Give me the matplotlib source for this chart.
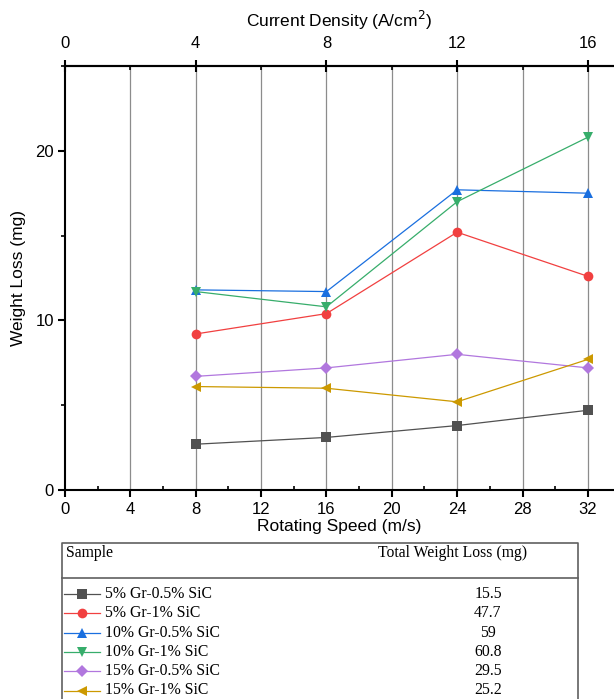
import numpy as np
import matplotlib.pyplot as plt
from matplotlib.ticker import MultipleLocator

plt.rcParams['font.family'] = ['Liberation Sans', 'DejaVu Sans']

# ---------------------------------------------------------
# Data
# ---------------------------------------------------------

speed = [8, 16, 24, 32]

labels = [
    "5% Gr-0.5% SiC",
    "5% Gr-1% SiC",
    "10% Gr-0.5% SiC",
    "10% Gr-1% SiC",
    "15% Gr-0.5% SiC",
    "15% Gr-1% SiC",
]

loss_5gr_05sic = [2.7, 3.1, 3.8, 4.7]
loss_5gr_1sic = [9.2, 10.4, 15.2, 12.6]
loss_10gr_05sic = [11.8, 11.7, 17.7, 17.5]
loss_10gr_1sic = [11.7, 10.8, 17.0, 20.8]
loss_15gr_05sic = [6.7, 7.2, 8.0, 7.2]
loss_15gr_1sic = [6.1, 6.0, 5.2, 7.7]

total_loss = ["15.5", "47.7", "59", "60.8", "29.5", "25.2"]

series = [loss_5gr_05sic, loss_5gr_1sic, loss_10gr_05sic,
          loss_10gr_1sic, loss_15gr_05sic, loss_15gr_1sic]
colors = ["#515151", "#F14040", "#1A6FDF", "#37AD6B", "#B177DE", "#CC9900"]
markers = ["s", "o", "^", "v", "D", "<"]
msizes = [6.5, 7, 7.5, 7.5, 6.5, 7.5]

# ---------------------------------------------------------
# Figure
# ---------------------------------------------------------

W, H = 614, 699
fig = plt.figure(figsize=(W / 100, H / 100), dpi=100)

ax = fig.add_axes([65 / W, 1 - 490 / H, (W - 65) / W, (490 - 66) / H])

for x in range(4, 33, 4):
    ax.axvline(x, color="#8c8c8c", lw=0.9, zorder=0)

for y, c, m, ms in zip(series, colors, markers, msizes):
    ax.plot(speed, y, color=c, lw=0.9, marker=m, markersize=ms,
            markeredgewidth=0, zorder=3)

ax.set_xlim(0, 33.6)
ax.set_ylim(0, 25)
ax.xaxis.set_major_locator(MultipleLocator(4))
ax.xaxis.set_minor_locator(MultipleLocator(2))
ax.yaxis.set_major_locator(MultipleLocator(10))
ax.yaxis.set_minor_locator(MultipleLocator(5))
ax.spines['right'].set_visible(False)
for s in ['left', 'bottom', 'top']:
    ax.spines[s].set_linewidth(1.5)
ax.tick_params(axis='x', which='major', direction='out', length=5, width=1.5,
               labelsize=12, pad=4)
ax.tick_params(axis='x', which='minor', direction='in', length=3, width=1.2)
ax.tick_params(axis='y', which='major', direction='out', length=5, width=1.5,
               labelsize=12, pad=3)
ax.tick_params(axis='y', which='minor', direction='out', length=3, width=1.2)
ax.set_xlabel("Rotating Speed (m/s)", fontsize=12.5, labelpad=1)
ax.set_ylabel("Weight Loss (mg)", fontsize=12.5, labelpad=7)

top = ax.twiny()
top.set_xlim(0, 33.6 / 2)
top.xaxis.set_major_locator(MultipleLocator(4))
top.xaxis.set_minor_locator(MultipleLocator(2))
for s in ['left', 'bottom', 'right']:
    top.spines[s].set_visible(False)
top.spines['top'].set_linewidth(1.5)
top.tick_params(axis='x', which='major', direction='inout', length=8, width=1.5,
                labelsize=12, pad=7)
top.tick_params(axis='x', which='minor', direction='in', length=3, width=1.2)
top.set_xlabel("Current Density (A/cm$^2$)", fontsize=12.5, labelpad=6)

# ---------------------------------------------------------
# Summary table below the plot
# ---------------------------------------------------------

tab = fig.add_axes([0, 0, 1, 1], zorder=-1)
tab.set_xlim(0, W)
tab.set_ylim(H, 0)
tab.axis("off")

box = "#606060"
tab.plot([62, 62, 578, 578], [H + 5, 543, 543, H + 5], color=box, lw=1.2)
tab.plot([62, 578], [578, 578], color=box, lw=1.2)

serif = ['Liberation Serif', 'DejaVu Serif']
fs = 11.3
tab.text(66, 553, "Sample", family=serif, fontsize=fs, va="center")
tab.text(378, 553, "Total Weight Loss (mg)", family=serif, fontsize=fs,
         va="center")

for i, (lab, c, m, ms, tot) in enumerate(zip(labels, colors, markers, msizes,
                                             total_loss)):
    yy = 594 + i * 19.3
    tab.plot([64, 100], [yy, yy], color=c, lw=0.9)
    tab.plot([82], [yy], marker=m, color=c, markersize=ms, markeredgewidth=0)
    tab.text(105, yy, lab, family=serif, fontsize=fs, va="center")
    tab.text(488, yy, tot, family=serif, fontsize=fs, va="center", ha="center")

plt.savefig("out.png", dpi=100)
